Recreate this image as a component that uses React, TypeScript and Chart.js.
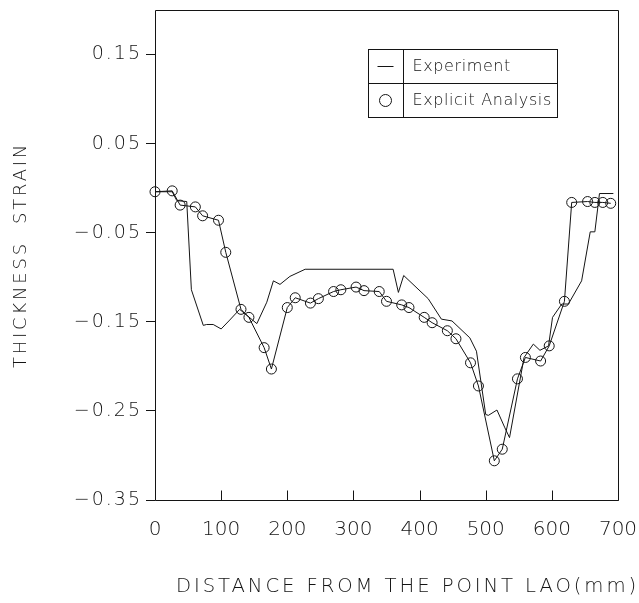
import React, { useEffect, useRef } from 'react';
import { Chart, registerables } from 'chart.js';

Chart.register(...registerables);

// ---- data ----
const SERIES_LABELS = ['Experiment', 'Explicit Analysis'];

const EXP_X = [0, 26, 33, 48, 55, 73, 78, 88, 100, 113, 128, 154, 169, 179, 189, 204, 227, 360, 368, 376, 413, 433, 449, 476, 486, 500, 504, 517, 529, 536, 558, 572, 582, 595, 601, 615, 625, 645, 658, 665, 672, 693];
const EXP_Y = [-0.004, -0.004, -0.014, -0.015, -0.114, -0.154, -0.153, -0.153, -0.158, -0.148, -0.136, -0.152, -0.128, -0.104, -0.108, -0.099, -0.091, -0.091, -0.117, -0.098, -0.124, -0.147, -0.149, -0.168, -0.183, -0.254, -0.255, -0.249, -0.269, -0.28, -0.19, -0.175, -0.182, -0.177, -0.145, -0.13, -0.13, -0.104, -0.049, -0.049, -0.006, -0.006];

const FEM_X = [0, 26, 38, 61, 72, 96, 107, 130, 142, 165, 176, 200, 212, 235, 247, 270, 281, 304, 316, 339, 350, 373, 384, 407, 419, 442, 455, 477, 489, 513, 525, 548, 560, 583, 596, 619, 630, 654, 665, 677, 689];
const FEM_Y = [-0.004, -0.003, -0.019, -0.021, -0.031, -0.036, -0.072, -0.136, -0.145, -0.179, -0.203, -0.134, -0.123, -0.129, -0.124, -0.116, -0.114, -0.111, -0.115, -0.116, -0.127, -0.131, -0.134, -0.145, -0.151, -0.16, -0.169, -0.196, -0.222, -0.306, -0.293, -0.214, -0.19, -0.194, -0.177, -0.127, -0.016, -0.015, -0.016, -0.016, -0.017];

const X_TICKS = [0, 100, 200, 300, 400, 500, 600, 700];
const Y_TICKS = [-0.35, -0.25, -0.15, -0.05, 0.05, 0.15];
const X_MIN = 0;
const X_MAX = 700;
const Y_MIN = -0.35;
const Y_MAX = 0.2;

const X_TITLE = 'DISTANCE FROM THE POINT LAO(mm)';
const Y_TITLE = 'THICKNESS  STRAIN';

const INK = '#141414';
const FONT = "'DejaVu Sans', 'Noto Sans', sans-serif";

const fmtY = (v: number) => (v < 0 ? '\u2212' : '') + Math.abs(v).toFixed(2);

// wrap scale text drawing to add letter spacing / nudge
const spacingPlugin = {
  id: 'textSpacing',
  beforeDraw(chart: any) {
    const specs: Array<[string, string, string, number]> = [
      ['x', 'drawTitle', '2.95px', 21],
      ['y', 'drawTitle', '2.8px', 0],
      ['y', 'drawLabels', '2px', 2],
    ];
    for (const [id, method, spacing, dx] of specs) {
      const s: any = chart.scales[id];
      const key = '__wrapped_' + method;
      if (!s || s[key]) continue;
      const orig = s[method].bind(s);
      s[method] = (...args: any[]) => {
        const c: any = chart.ctx;
        c.save();
        c.letterSpacing = spacing;
        c.translate(dx, 0);
        orig(...args);
        c.restore();
      };
      s[key] = true;
    }
  },
};

const framePlugin = {
  id: 'frame',
  afterDatasetsDraw(chart: any) {
    const { ctx, chartArea } = chart;
    const { left, top, right, bottom } = chartArea;
    const xs = chart.scales.x;
    ctx.save();
    ctx.strokeStyle = INK;
    ctx.lineWidth = 1;
    const L = Math.round(left) + 0.5;
    const R = Math.round(right) + 0.5;
    const T = Math.round(top) + 0.5;
    const B = Math.round(bottom) + 0.5;
    ctx.beginPath();
    ctx.moveTo(L, T);
    ctx.lineTo(R, T);
    ctx.lineTo(R, B);
    ctx.lineTo(L, B);
    ctx.closePath();
    ctx.stroke();
    ctx.beginPath();
    for (const t of xs.ticks) {
      const px = Math.round(xs.getPixelForValue(t.value)) + 0.5;
      ctx.moveTo(px, B);
      ctx.lineTo(px, B - 10);
    }
    ctx.stroke();
    ctx.restore();
  },
};

const legendPlugin = {
  id: 'boxLegend',
  afterDraw(chart: any) {
    const { ctx, chartArea } = chart;
    const left = Math.round(chartArea.left + 213) + 0.5;
    const top = Math.round(chartArea.top + 39) + 0.5;
    const w = 189;
    const rowH = 34;
    const div = 35;
    ctx.save();
    ctx.strokeStyle = INK;
    ctx.lineWidth = 1;
    ctx.strokeRect(left, top, w, rowH * 2);
    ctx.beginPath();
    ctx.moveTo(left, top + rowH);
    ctx.lineTo(left + w, top + rowH);
    ctx.moveTo(left + div, top);
    ctx.lineTo(left + div, top + rowH * 2);
    ctx.stroke();
    // symbols
    ctx.beginPath();
    ctx.moveTo(left + 9, top + rowH / 2);
    ctx.lineTo(left + 25, top + rowH / 2);
    ctx.stroke();
    ctx.beginPath();
    ctx.arc(left + 17, top + rowH * 1.5, 6, 0, Math.PI * 2);
    ctx.stroke();
    // texts
    ctx.fillStyle = INK;
    ctx.font = `300 16px ${FONT}`;
    (ctx as any).letterSpacing = '0.6px';
    ctx.textAlign = 'left';
    ctx.textBaseline = 'middle';
    const labels = chart.data.datasets.map((d: any) => d.label);
    ctx.fillText(labels[0], left + div + 9, top + rowH / 2);
    ctx.fillText(labels[1], left + div + 9, top + rowH * 1.5);
    ctx.restore();
  },
};

export default function App() {
  const ref = useRef<HTMLCanvasElement | null>(null);

  useEffect(() => {
    if (!ref.current) return;
    const expData = EXP_X.map((x, i) => ({ x, y: EXP_Y[i] }));
    const femData = FEM_X.map((x, i) => ({ x, y: FEM_Y[i] }));
    const chart = new Chart(ref.current, {
      type: 'line',
      data: {
        datasets: [
          {
            label: SERIES_LABELS[0],
            data: expData,
            borderColor: INK,
            borderWidth: 1,
            pointRadius: 0,
            fill: false,
            tension: 0,
          },
          {
            label: SERIES_LABELS[1],
            data: femData,
            borderColor: INK,
            borderWidth: 1,
            pointRadius: 5,
            pointStyle: 'circle',
            pointBorderColor: INK,
            pointBackgroundColor: 'rgba(0,0,0,0)',
            pointBorderWidth: 1,
            fill: false,
            tension: 0,
            clip: false as any,
          },
        ],
      },
      options: {
        responsive: false,
        animation: false,
        events: [],
        layout: { padding: { top: 10, right: 21, left: 0, bottom: 0 } },
        plugins: {
          legend: { display: false },
          tooltip: { enabled: false },
        },
        scales: {
          x: {
            type: 'linear',
            min: X_MIN,
            max: X_MAX,
            afterBuildTicks: (s: any) => {
              s.ticks = X_TICKS.map((v) => ({ value: v }));
            },
            afterFit: (s: any) => {
              s.height = 103;
              s.paddingLeft = 0;
              s.paddingRight = 0;
            },
            grid: { display: false },
            border: { display: false },
            ticks: {
              color: INK,
              font: { family: FONT, size: 20, weight: '300' as any },
              padding: 10,
              maxRotation: 0,
              autoSkip: false,
            },
            title: {
              display: true,
              text: X_TITLE,
              color: INK,
              font: { family: FONT, size: 20, weight: '300' as any },
              padding: { top: 0, bottom: 4 },
            },
          },
          y: {
            type: 'linear',
            min: Y_MIN,
            max: Y_MAX,
            afterBuildTicks: (s: any) => {
              s.ticks = Y_TICKS.map((v) => ({ value: v }));
            },
            afterFit: (s: any) => {
              s.width = 155;
              s.paddingTop = 0;
              s.paddingBottom = 0;
            },
            grid: {
              display: true,
              drawOnChartArea: false,
              drawTicks: true,
              tickLength: 9,
              color: INK,
              lineWidth: 1,
            },
            border: { display: false },
            ticks: {
              color: INK,
              font: { family: FONT, size: 19, weight: '300' as any },
              padding: 6,
              callback: (v: any) => fmtY(Number(v)),
            },
            title: {
              display: true,
              text: Y_TITLE,
              color: INK,
              font: { family: FONT, size: 18, weight: '300' as any },
              padding: { top: 11, bottom: 0 },
            },
          },
        },
      },
      plugins: [spacingPlugin, framePlugin, legendPlugin],
    });
    return () => chart.destroy();
  }, []);

  return (
    <div style={{ position: 'absolute', left: 0, top: 0, width: 639, height: 603, background: '#fff' }}>
      <canvas ref={ref} width={639} height={603} style={{ display: 'block' }} />
    </div>
  );
}
